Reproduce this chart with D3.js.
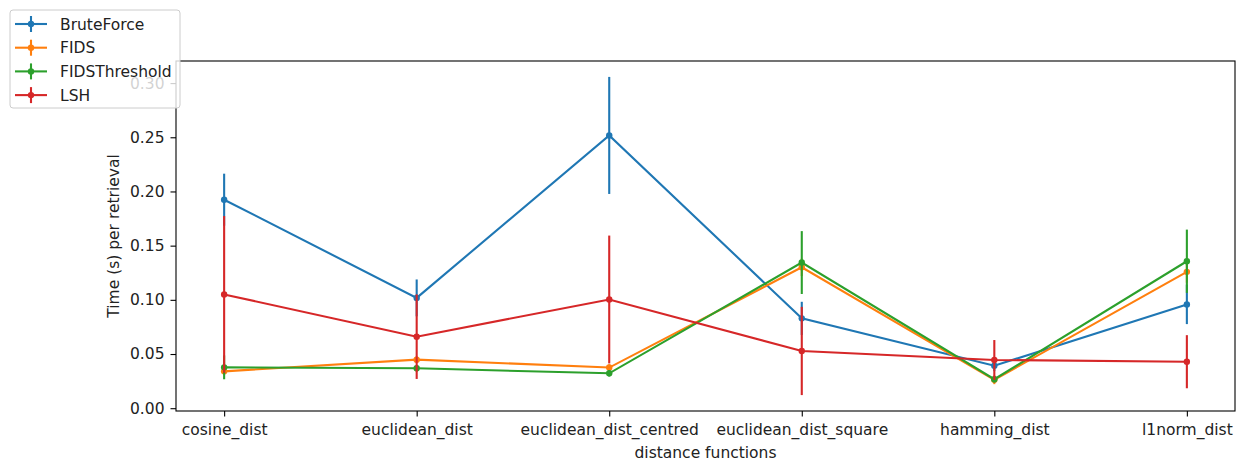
<!DOCTYPE html>
<html>
<head>
<meta charset="utf-8">
<script src="https://cdn.jsdelivr.net/npm/d3@7"></script>
<style>
  body { margin: 0; background: #fff; }
  svg { font-family: "DejaVu Sans", sans-serif; }
</style>
</head>
<body>
<svg width="1238" height="459"></svg>
<script>
// categories on the x axis
var categories = ["cosine_dist", "euclidean_dist", "euclidean_dist_centred",
                  "euclidean_dist_square", "hamming_dist", "l1norm_dist"];
var seriesNames = ["BruteForce", "FIDS", "FIDSThreshold", "LSH"];
var colors = ["#1f77b4", "#ff7f0e", "#2ca02c", "#d62728"];

// mean time per retrieval
var bruteForce    = [0.1924, 0.1018, 0.2517, 0.0829, 0.0392, 0.0958];
var fids          = [0.0340, 0.0448, 0.0375, 0.1300, 0.0262, 0.1258];
var fidsThreshold = [0.0377, 0.0368, 0.0322, 0.1344, 0.0267, 0.1356];
var lsh           = [0.1050, 0.0660, 0.1003, 0.0528, 0.0445, 0.0429];

// standard deviations (error bars)
var bruteForceErr    = [0.0240, 0.0170, 0.0540, 0.0153, 0.0050, 0.0182];
var fidsErr          = [0.0030, 0.0030, 0.0030, 0.0080, 0.0040, 0.0100];
var fidsThresholdErr = [0.0110, 0.0030, 0.0030, 0.0290, 0.0030, 0.0292];
var lshErr           = [0.0723, 0.0390, 0.0590, 0.0407, 0.0184, 0.0245];

var yTicks = [0.00, 0.05, 0.10, 0.15, 0.20, 0.25, 0.30];

var allValues = [bruteForce, fids, fidsThreshold, lsh];
var allErrs = [bruteForceErr, fidsErr, fidsThresholdErr, lshErr];

var fontSize = "15.5px";
var margin = { top: 61, right: 3, bottom: 48, left: 176 };
var width = 1238 - margin.left - margin.right;
var height = 459 - margin.top - margin.bottom;

var svg = d3.select("svg");
var g = svg.append("g")
    .attr("transform", "translate(" + margin.left + "," + margin.top + ")");

// matplotlib style 5% margins
var x = d3.scaleLinear()
    .domain([-0.25, categories.length - 1 + 0.25])
    .range([0, width]);

var lo = d3.min(allValues, function (s, k) {
    return d3.min(s, function (v, i) { return v - allErrs[k][i]; });
});
var hi = d3.max(allValues, function (s, k) {
    return d3.max(s, function (v, i) { return v + allErrs[k][i]; });
});
var pad = (hi - lo) * 0.05;
var y = d3.scaleLinear().domain([lo - pad, hi + pad]).range([height, 0]);

// series
allValues.forEach(function (vals, k) {
    var line = d3.line()
        .x(function (d, i) { return x(i); })
        .y(function (d) { return y(d); });

    var sg = g.append("g");
    sg.append("path")
        .datum(vals)
        .attr("fill", "none")
        .attr("stroke", colors[k])
        .attr("stroke-width", 2.1)
        .attr("d", line);

    sg.selectAll("line.err")
        .data(vals)
        .enter().append("line")
        .attr("class", "err")
        .attr("x1", function (d, i) { return x(i); })
        .attr("x2", function (d, i) { return x(i); })
        .attr("y1", function (d, i) { return y(d - allErrs[k][i]); })
        .attr("y2", function (d, i) { return y(d + allErrs[k][i]); })
        .attr("stroke", colors[k])
        .attr("stroke-width", 2.1);

    sg.selectAll("circle")
        .data(vals)
        .enter().append("circle")
        .attr("cx", function (d, i) { return x(i); })
        .attr("cy", function (d) { return y(d); })
        .attr("r", 3.2)
        .attr("fill", colors[k]);
});

// axes
var xAxis = g.append("g")
    .attr("transform", "translate(0," + height + ")")
    .call(d3.axisBottom(x)
        .tickValues(d3.range(categories.length))
        .tickFormat(function (i) { return categories[i]; })
        .tickSize(5.5).tickPadding(7));

var yAxis = g.append("g")
    .call(d3.axisLeft(y)
        .tickValues(yTicks)
        .tickFormat(d3.format(".2f"))
        .tickSize(5.5).tickPadding(6));

[xAxis, yAxis].forEach(function (a) {
    a.select(".domain").remove();
    a.selectAll("text").attr("font-size", fontSize)
        .attr("font-family", "DejaVu Sans").attr("fill", "#222");
    a.selectAll("line").attr("stroke", "#000").attr("stroke-width", 1.1);
});

// frame
g.append("rect")
    .attr("width", width).attr("height", height)
    .attr("fill", "none").attr("stroke", "#000").attr("stroke-width", 1.1);

// axis labels
g.append("text")
    .attr("x", width / 2).attr("y", height + 47)
    .attr("text-anchor", "middle")
    .attr("font-size", fontSize)
    .attr("fill", "#222")
    .text("distance functions");

g.append("text")
    .attr("transform", "translate(" + (-57) + "," + (height / 2) + ") rotate(-90)")
    .attr("text-anchor", "middle")
    .attr("font-size", fontSize)
    .attr("fill", "#222")
    .text("Time (s) per retrieval");

// legend
var leg = svg.append("g").attr("transform", "translate(10,10)");
leg.append("rect")
    .attr("width", 170).attr("height", 98)
    .attr("rx", 3)
    .attr("fill", "#fff").attr("fill-opacity", 0.8)
    .attr("stroke", "#ccc").attr("stroke-width", 1);

seriesNames.forEach(function (name, k) {
    var ly = 14 + k * 23.7;
    var it = leg.append("g").attr("transform", "translate(0," + ly + ")");
    it.append("line")
        .attr("x1", 5).attr("x2", 37)
        .attr("stroke", colors[k]).attr("stroke-width", 2.1);
    it.append("line")
        .attr("x1", 21).attr("x2", 21).attr("y1", -8).attr("y2", 8)
        .attr("stroke", colors[k]).attr("stroke-width", 2.1);
    it.append("circle")
        .attr("cx", 21).attr("r", 3.2).attr("fill", colors[k]);
    it.append("text")
        .attr("x", 50).attr("y", 5.5)
        .attr("font-size", fontSize)
        .attr("fill", "#222")
        .text(name);
});
</script>
</body>
</html>
